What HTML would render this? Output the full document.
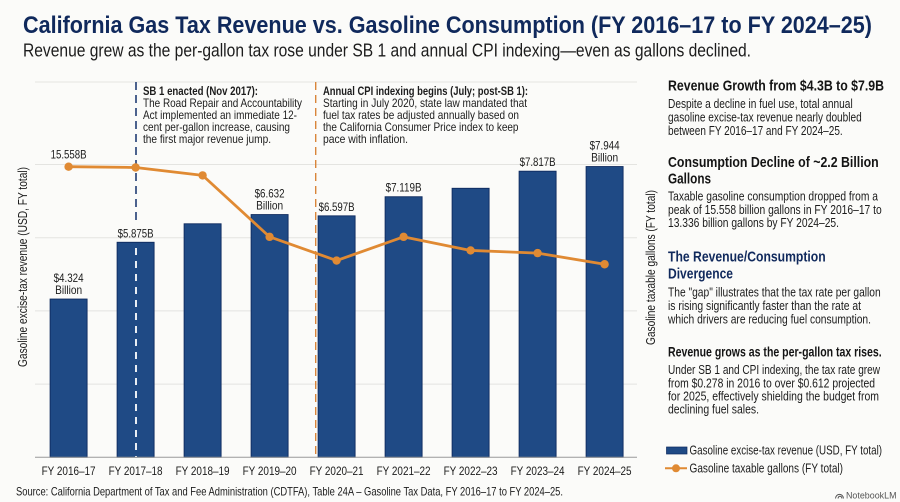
<!DOCTYPE html>
<html lang="en">
<head>
<meta charset="utf-8">
<title>California Gas Tax Revenue vs. Gasoline Consumption</title>
<style>
html,body{margin:0;padding:0;background:#fbfbf9;width:900px;height:502px;overflow:hidden}
svg{display:block;filter:blur(0.3px)}
text{font-family:"Liberation Sans Narrow","Liberation Sans",sans-serif;fill:#1c1c1c;font-size:12px}
.b{font-weight:700}
.h{font-weight:700;font-size:15px;fill:#141414}
.p{font-size:12.5px}
</style>
</head>
<body>
<svg id="chart" xmlns="http://www.w3.org/2000/svg" width="900" height="502" viewBox="0 0 900 502">
<rect x="0" y="0" width="900" height="502" fill="#fbfbf9"/>

<text class="b" x="23" y="33" style="font-size:24px;fill:#10295c" textLength="849" lengthAdjust="spacingAndGlyphs">California Gas Tax Revenue vs. Gasoline Consumption (FY 2016–17 to FY 2024–25)</text>
<text x="23" y="56.5" style="font-size:18px" textLength="728" lengthAdjust="spacingAndGlyphs">Revenue grew as the per-gallon tax rose under SB 1 and annual CPI indexing—even as gallons declined.</text>

<line x1="35" x2="637" y1="82" y2="82" stroke="#e4e4e1" stroke-width="1"/>
<g id="grid"></g>
<g id="bars"></g>
<line x1="136" x2="136" y1="82" y2="220" stroke="#12306b" stroke-width="1.5" stroke-dasharray="8 5"/>
<line x1="136" x2="136" y1="248" y2="457" stroke="#ffffff" stroke-width="1.8" stroke-dasharray="7 6"/>
<line x1="315.7" x2="315.7" y1="82" y2="457" stroke="#d9853a" stroke-width="1.4" stroke-dasharray="8 5"/>
<line x1="35" x2="637" y1="457.3" y2="457.3" stroke="#9a9a9a" stroke-width="1"/>
<g id="line"></g>
<g id="labels"></g>
<g id="xticks"></g>

<g>
<text class="b" x="143" y="95" textLength="115" lengthAdjust="spacingAndGlyphs">SB 1 enacted (Nov 2017):</text>
<text x="143" y="107" textLength="159" lengthAdjust="spacingAndGlyphs">The Road Repair and Accountability</text>
<text x="143" y="119" textLength="154" lengthAdjust="spacingAndGlyphs">Act implemented an immediate 12-</text>
<text x="143" y="131" textLength="147" lengthAdjust="spacingAndGlyphs">cent per-gallon increase, causing</text>
<text x="143" y="143" textLength="128" lengthAdjust="spacingAndGlyphs">the first major revenue jump.</text>
</g>
<g>
<text class="b" x="323" y="95" textLength="205" lengthAdjust="spacingAndGlyphs">Annual CPI indexing begins (July; post-SB 1):</text>
<text x="323" y="107" textLength="204" lengthAdjust="spacingAndGlyphs">Starting in July 2020, state law mandated that</text>
<text x="323" y="119" textLength="196" lengthAdjust="spacingAndGlyphs">fuel tax rates be adjusted annually based on</text>
<text x="323" y="131" textLength="195.5" lengthAdjust="spacingAndGlyphs">the California Consumer Price index to keep</text>
<text x="323" y="143" textLength="85" lengthAdjust="spacingAndGlyphs">pace with inflation.</text>
</g>

<text transform="translate(27,367) rotate(-90)" x="0" y="0" style="font-size:12.5px" textLength="200" lengthAdjust="spacingAndGlyphs">Gasoline excise-tax revenue (USD, FY total)</text>
<text transform="translate(655,345) rotate(-90)" x="0" y="0" style="font-size:12.5px" textLength="155" lengthAdjust="spacingAndGlyphs">Gasoline taxable gallons (FY total)</text>

<g>
<text class="h" x="668" y="90.5" textLength="216" lengthAdjust="spacingAndGlyphs">Revenue Growth from $4.3B to $7.9B</text>
<text class="p" x="668" y="108" textLength="184.7" lengthAdjust="spacingAndGlyphs">Despite a decline in fuel use, total annual</text>
<text class="p" x="668" y="121.5" textLength="193.7" lengthAdjust="spacingAndGlyphs">gasoline excise-tax revenue nearly doubled</text>
<text class="p" x="668" y="135" textLength="174.7" lengthAdjust="spacingAndGlyphs">between FY 2016–17 and FY 2024–25.</text>
</g>
<g>
<text class="h" x="668" y="167" textLength="210.7" lengthAdjust="spacingAndGlyphs">Consumption Decline of ~2.2 Billion</text>
<text class="h" x="668" y="183.5" textLength="43" lengthAdjust="spacingAndGlyphs">Gallons</text>
<text class="p" x="668" y="200.5" textLength="210" lengthAdjust="spacingAndGlyphs">Taxable gasoline consumption dropped from a</text>
<text class="p" x="668" y="214" textLength="213.7" lengthAdjust="spacingAndGlyphs">peak of 15.558 billion gallons in FY 2016–17 to</text>
<text class="p" x="668" y="227" textLength="171" lengthAdjust="spacingAndGlyphs">13.336 billion gallons by FY 2024–25.</text>
</g>
<g>
<text class="h" x="668" y="261.5" style="fill:#10295c" textLength="157.7" lengthAdjust="spacingAndGlyphs">The Revenue/Consumption</text>
<text class="h" x="668" y="278.5" style="fill:#10295c" textLength="65" lengthAdjust="spacingAndGlyphs">Divergence</text>
<text class="p" x="668" y="296.5" textLength="212.7" lengthAdjust="spacingAndGlyphs">The "gap" illustrates that the tax rate per gallon</text>
<text class="p" x="668" y="310" textLength="193" lengthAdjust="spacingAndGlyphs">is rising significantly faster than the rate at</text>
<text class="p" x="668" y="323.5" textLength="203" lengthAdjust="spacingAndGlyphs">which drivers are reducing fuel consumption.</text>
</g>
<g>
<text class="h" x="668" y="356.5" style="font-size:14px" textLength="213.7" lengthAdjust="spacingAndGlyphs">Revenue grows as the per-gallon tax rises.</text>
<text class="p" x="668" y="374" textLength="212" lengthAdjust="spacingAndGlyphs">Under SB 1 and CPI indexing, the tax rate grew</text>
<text class="p" x="668" y="387.5" textLength="207" lengthAdjust="spacingAndGlyphs">from $0.278 in 2016 to over $0.612 projected</text>
<text class="p" x="668" y="400.5" textLength="211" lengthAdjust="spacingAndGlyphs">for 2025, effectively shielding the budget from</text>
<text class="p" x="668" y="413.5" textLength="91" lengthAdjust="spacingAndGlyphs">declining fuel sales.</text>
</g>

<g>
<rect x="666.5" y="447" width="20.5" height="7" fill="#1f4a85" stroke="#0e2a5e" stroke-width="0.7"/>
<text class="p" x="689.5" y="454.5" style="font-size:13px" textLength="192.5" lengthAdjust="spacingAndGlyphs">Gasoline excise-tax revenue (USD, FY total)</text>
<line x1="665" x2="687" y1="468.3" y2="468.3" stroke="#e08a33" stroke-width="2"/>
<circle cx="676" cy="468.3" r="4" fill="#e08a33"/>
<text class="p" x="689.5" y="472.5" style="font-size:13px" textLength="153.5" lengthAdjust="spacingAndGlyphs">Gasoline taxable gallons (FY total)</text>
</g>

<text x="16" y="495.5" style="font-size:12px" textLength="547" lengthAdjust="spacingAndGlyphs">Source: California Department of Tax and Fee Administration (CDTFA), Table 24A – Gasoline Tax Data, FY 2016–17 to FY 2024–25.</text>

<g>
<path d="M835.5 498.5 C836 493 843 493 843.5 498.5 M838 498.5 C838.5 495.5 841.5 495.5 842 498.5" fill="none" stroke="#555" stroke-width="1"/>
<text x="846" y="498.5" style="font-family:'Liberation Sans',sans-serif;font-size:9.5px;fill:#555" textLength="50.5" lengthAdjust="spacingAndGlyphs">NotebookLM</text>
</g>
</svg>

<script>
const categories = ['FY 2016–17','FY 2017–18','FY 2018–19','FY 2019–20','FY 2020–21','FY 2021–22','FY 2022–23','FY 2023–24','FY 2024–25'];
const revenueBillions = [4.324, 5.875, 6.38, 6.632, 6.597, 7.119, 7.35, 7.817, 7.944];
const gallonsBillions = [15.558, 15.54, 15.36, 13.96, 13.42, 13.96, 13.65, 13.59, 13.336];
const revenueLabels = ['$4.324|Billion', '$5.875B', '', '$6.632|Billion', '$6.597B', '$7.119B', '', '$7.817B', '$7.944|Billion'];
const gallonsLabels = ['15.558B', '', '', '', '', '', '', '', ''];
const revenueTicks = [2, 4, 6, 8];

const NS = 'http://www.w3.org/2000/svg';
const xScale = function (i) { return 68.6 + i * 67; };
const yRevenue = function (v) { return 457.3 - v * 36.6; };
const yGallons = function (v) { return 166.7 + (15.558 - v) * 43.9; };
const BAR_WIDTH = 37;

function make(tag, parent, attrs) {
  const el = document.createElementNS(NS, tag);
  Object.keys(attrs).forEach(function (k) { el.setAttribute(k, attrs[k]); });
  parent.appendChild(el);
  return el;
}

const gridGroup = document.getElementById('grid');
revenueTicks.forEach(function (t) {
  const el = make('line', gridGroup, { x1: 35, x2: 637, y1: yRevenue(t), y2: yRevenue(t), stroke: '#e4e4e1', 'stroke-width': 1 });
  
  
});

const barGroup = document.getElementById('bars');
revenueBillions.forEach(function (v, i) {
  const el = make('rect', barGroup, { x: xScale(i) - BAR_WIDTH / 2, y: yRevenue(v), width: BAR_WIDTH, height: 457.3 - yRevenue(v), fill: '#1f4a85', stroke: '#0e2a5e', 'stroke-width': 0.9 });
  
  
});

const lineGroup = document.getElementById('line');
const pointList = gallonsBillions.map(function (v, i) { return xScale(i) + ',' + yGallons(v); }).join(' ');
const polyline = make('polyline', lineGroup, { points: pointList, fill: 'none', stroke: '#e08a33', 'stroke-width': 2.8, 'stroke-linejoin': 'round' });


gallonsBillions.forEach(function (v, i) {
  const el = make('circle', lineGroup, { cx: xScale(i), cy: yGallons(v), r: 4.2, fill: '#e08a33' });
  
  
});

const labelGroup = document.getElementById('labels');
revenueLabels.forEach(function (label, i) {
  if (!label) { return; }
  const lines = label.split('|');
  lines.forEach(function (line, j) {
    const y = yRevenue(revenueBillions[i]) - 5 - (lines.length - 1 - j) * 12.2;
    const el = make('text', labelGroup, { x: xScale(i), y: y, 'text-anchor': 'middle', textLength: line.length > 6 && line[0] === '$' ? 36 : (line[0] === '$' ? 30 : 27), lengthAdjust: 'spacingAndGlyphs' });
    
    
    el.textContent = line;
  });
});
gallonsLabels.forEach(function (label, i) {
  if (!label) { return; }
  const el = make('text', labelGroup, { x: xScale(i), y: yGallons(gallonsBillions[i]) - 8, 'text-anchor': 'middle', textLength: 36, lengthAdjust: 'spacingAndGlyphs' });
  
  
  el.textContent = label;
});

const tickGroup = document.getElementById('xticks');
categories.forEach(function (c, i) {
  const el = make('text', tickGroup, { x: xScale(i), y: 475, 'text-anchor': 'middle', textLength: 54, lengthAdjust: 'spacingAndGlyphs' });
  
  
  el.textContent = c;
});
</script>
</body>
</html>
